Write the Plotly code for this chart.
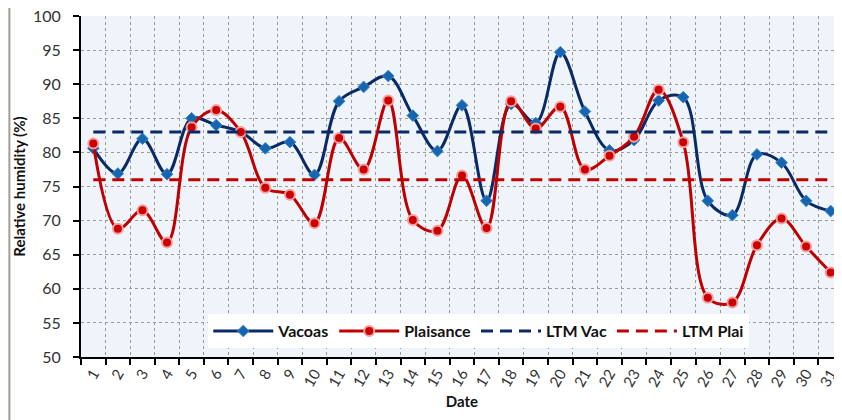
import plotly.graph_objects as go

days = list(range(1, 32))
day_labels = [str(d) for d in days]

vacoas = [80.6, 76.9, 82.0, 76.8, 85.0, 84.0, 83.0, 80.6, 81.5, 76.7,
          87.5, 89.6, 91.2, 85.4, 80.2, 86.9, 72.9, 87.1, 84.3, 94.7,
          86.0, 80.3, 81.8, 87.6, 88.1, 72.9, 70.8, 79.7, 78.5, 72.9, 71.4]
plaisance = [81.3, 68.8, 71.5, 66.8, 83.7, 86.2, 83.0, 74.8, 73.8, 69.6,
             82.1, 77.5, 87.6, 70.1, 68.5, 76.6, 68.9, 87.5, 83.5, 86.7,
             77.5, 79.5, 82.3, 89.2, 81.5, 58.7, 58.0, 66.4, 70.3, 66.2, 62.4]
ltm_vac = 83.0
ltm_plai = 76.0

y_ticks = [50, 55, 60, 65, 70, 75, 80, 85, 90, 95, 100]
y_tick_labels = [str(v) for v in y_ticks]

NAVY = "#0a2a66"
RED = "#c00000"
FONT = "Lato, 'Open Sans', sans-serif"

fig = go.Figure()
fig.add_trace(go.Scatter(
    x=days, y=vacoas, name="Vacoas", mode="lines+markers",
    line=dict(color=NAVY, width=3, shape="spline", smoothing=1.0),
    marker=dict(symbol="diamond", size=9, color="#1565b0",
                line=dict(color="#3d86c9", width=1))))
fig.add_trace(go.Scatter(
    x=days, y=plaisance, name="Plaisance", mode="lines+markers",
    line=dict(color=RED, width=3, shape="spline", smoothing=1.0),
    marker=dict(symbol="circle", size=10, color="#cc0000",
                line=dict(color="#f2a0a0", width=2))))
fig.add_trace(go.Scatter(
    x=days, y=[ltm_vac] * len(days), name="LTM Vac", mode="lines",
    line=dict(color=NAVY, width=3, dash="12px,7px")))
fig.add_trace(go.Scatter(
    x=days, y=[ltm_plai] * len(days), name="LTM Plai", mode="lines",
    line=dict(color=RED, width=3, dash="12px,7px")))

fig.update_layout(
    width=842, height=420,
    margin=dict(l=73, r=7, t=8, b=71),
    paper_bgcolor="white",
    plot_bgcolor="#eff4fa",
    font=dict(family=FONT, color="#333333"),
    showlegend=True,
    legend=dict(
        orientation="h", x=0.522, y=0.076, xanchor="center", yanchor="middle",
        bgcolor="white", font=dict(family=FONT, size=16, color="#111111", weight="bold"),
        itemwidth=60, tracegroupgap=0),
    shapes=[dict(type="line", xref="paper", yref="paper",
                 x0=-0.094, x1=-0.094, y0=-0.25, y1=1.05,
                 line=dict(color="#a49c96", width=2))],
)

fig.update_xaxes(
    range=[0.5, 31.5], automargin=False,
    tickmode="array", tickvals=days, ticktext=day_labels,
    tickangle=-60, ticks="", showgrid=False, zeroline=False,
    ticklabeloverflow="allow",
    tickfont=dict(family=FONT, size=15, color="#333333"),
    showline=True, linecolor="black", linewidth=2,
    minor=dict(tickmode="linear", tick0=0.5, dtick=1, ticks="outside",
               ticklen=6, tickwidth=2, tickcolor="black",
               showgrid=True, gridcolor="#9a9a9a", griddash="dot", gridwidth=1),
    title=dict(text="<b>Date</b>", font=dict(family=FONT, size=15, color="#111111"),
               standoff=8),
)
fig.update_yaxes(
    range=[50, 100], automargin=False,
    tickmode="array", tickvals=y_ticks, ticktext=y_tick_labels,
    ticks="outside", ticklen=6, tickwidth=2, tickcolor="black",
    ticklabeloverflow="allow",
    tickfont=dict(family=FONT, size=16, color="#333333"),
    showline=True, linecolor="black", linewidth=2, zeroline=False,
    showgrid=True, gridcolor="#9a9a9a", griddash="dot", gridwidth=1,
    ticklabelstandoff=9,
    title=dict(text="<b>Relative humidity (%)</b>",
               font=dict(family=FONT, size=15, color="#111111"), standoff=4),
)

fig.write_html("out.html")
